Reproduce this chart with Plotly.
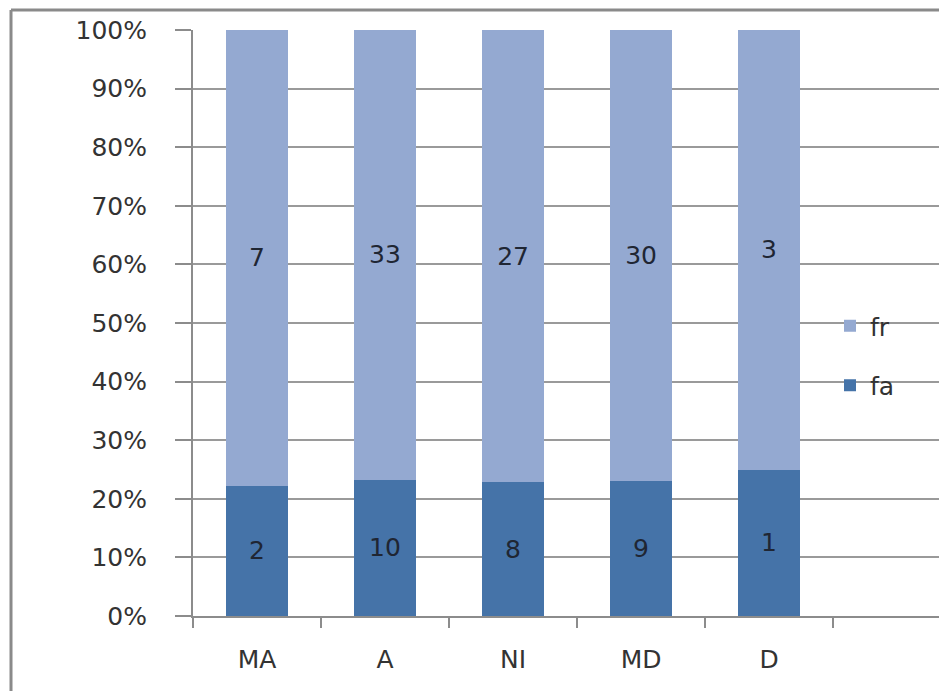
import plotly.graph_objects as go

categories = ["MA", "A", "NI", "MD", "D"]
fa_values = [2, 10, 8, 9, 1]
fr_values = [7, 33, 27, 30, 3]
y_tick_values = [0, 10, 20, 30, 40, 50, 60, 70, 80, 90, 100]
y_tick_labels = [f"{v}%" for v in y_tick_values]

totals = [a + b for a, b in zip(fa_values, fr_values)]
fa_pct = [a / t * 100 for a, t in zip(fa_values, totals)]
fr_pct = [b / t * 100 for b, t in zip(fr_values, totals)]

FONT = "DejaVu Sans"
OFF = 8  # page body margin
W, H = 947 - OFF, 691 - OFF
L, R, T, B = 193 - OFF, 0, 30 - OFF, 691 - 616
pw, ph = W - L - R, H - T - B

def px_x(p):
    return (p - OFF - L) / pw

def px_y(p):
    return (H - B - (p - OFF)) / ph

fig = go.Figure()
fig.add_trace(go.Bar(
    name="fa", x=categories, y=fa_pct, text=[str(v) for v in fa_values],
    marker=dict(color="#4573A8", line=dict(width=0)),
    textposition="inside", insidetextanchor="middle",
    textfont=dict(family=FONT, size=25, color="#1f2633"),
    legendgroup="fa", legendrank=2, hoverinfo="skip",
))
fig.add_trace(go.Bar(
    name="fr", x=categories, y=fr_pct, text=[str(v) for v in fr_values],
    marker=dict(color="#94A9D1", line=dict(width=0)),
    textposition="inside", insidetextanchor="middle",
    textfont=dict(family=FONT, size=25, color="#1f2633"),
    legendgroup="fr", legendrank=1, hoverinfo="skip",
))

fig.update_layout(
    width=W, height=H,
    barmode="stack", bargap=0.515,
    paper_bgcolor="white", plot_bgcolor="white",
    margin=dict(l=L, r=R, t=T, b=B, pad=0),
    font=dict(family=FONT, size=25, color="#333333"),
    showlegend=True,
    legend=dict(
        x=px_x(830), y=px_y(303), xanchor="left", yanchor="top",
        bgcolor="rgba(0,0,0,0)", traceorder="grouped",
        tracegroupgap=24, font=dict(family=FONT, size=25, color="#333333"),
    ),
    xaxis=dict(
        type="category", range=[-0.5, 5.39], tickson="boundaries",
        ticks="outside", ticklen=10, tickwidth=2, tickcolor="#8c8c8c",
        showline=True, linecolor="#8c8c8c", linewidth=2,
        showgrid=False, zeroline=False, ticklabelstandoff=20,
        tickfont=dict(family=FONT, size=25, color="#333333"),
    ),
    yaxis=dict(
        range=[0, 100], tickmode="array", tickvals=y_tick_values,
        ticktext=y_tick_labels, ticks="outside", ticklen=16, tickwidth=2,
        tickcolor="#8c8c8c", showgrid=True, gridcolor="#9a9a9a", gridwidth=2,
        showline=True, linecolor="#8c8c8c", linewidth=2, zeroline=False,
        ticklabelstandoff=23,
        tickfont=dict(family=FONT, size=25, color="#333333"),
    ),
    shapes=[
        dict(type="line", xref="paper", yref="paper",
             x0=px_x(11), x1=px_x(947), y0=px_y(10), y1=px_y(10),
             line=dict(color="#8a8a8a", width=3)),
        dict(type="line", xref="paper", yref="paper",
             x0=px_x(11), x1=px_x(11), y0=px_y(10), y1=px_y(691),
             line=dict(color="#8a8a8a", width=3)),
    ],
)

fig.write_html("out.html")
